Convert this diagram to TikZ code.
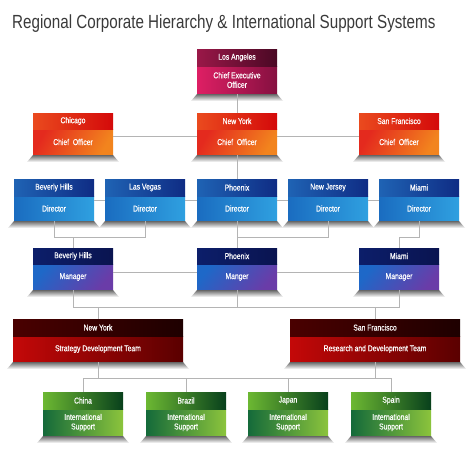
\documentclass[tikz,border=0pt]{standalone}
\usepackage{fontspec}
\setmainfont{Liberation Sans}
\newfontfamily\condf[FakeStretch=0.8]{Liberation Sans}
\newfontfamily\boxf[FakeStretch=0.8,FakeBold=0.4]{Liberation Sans}
\definecolor{ceoHL}{HTML}{9A1848}\definecolor{ceoHR}{HTML}{4A0824}
\definecolor{ceoBL}{HTML}{DE1F64}\definecolor{ceoBR}{HTML}{851040}
\definecolor{chHL}{HTML}{EA4A1E}\definecolor{chHR}{HTML}{D40A0A}
\definecolor{chBL}{HTML}{E42A1E}\definecolor{chBR}{HTML}{F2841E}
\definecolor{dirHL}{HTML}{1F63B4}\definecolor{dirHR}{HTML}{0F2C84}
\definecolor{dirBL}{HTML}{1A6CC0}\definecolor{dirBR}{HTML}{2FA0E0}
\definecolor{mgHL}{HTML}{0C1E6A}\definecolor{mgHR}{HTML}{0A1450}
\definecolor{mgBL}{HTML}{1E68C8}\definecolor{mgBR}{HTML}{6A3CA8}
\definecolor{tmHL}{HTML}{4A0000}\definecolor{tmHR}{HTML}{1E0000}
\definecolor{tmBL}{HTML}{C40808}\definecolor{tmBR}{HTML}{5A0000}
\definecolor{inHL}{HTML}{6CB832}\definecolor{inHR}{HTML}{08401C}
\definecolor{inBL}{HTML}{146A3A}\definecolor{inBR}{HTML}{8CC43C}
\definecolor{linegray}{HTML}{B4B4B4}
\definecolor{titlegray}{HTML}{3A3A3A}
\tikzset{
  box/.style={inner sep=0pt, outer sep=0pt, text=white, align=center,
    font=\boxf\fontsize{8.5}{9.5}\selectfont},
  ceoH/.style={left color=ceoHL, right color=ceoHR},
  ceoB/.style={left color=ceoBL, right color=ceoBR},
  chH/.style={left color=chHL, right color=chHR},
  chB/.style={left color=chBL, right color=chBR, shading angle=60},
  dirH/.style={left color=dirHL, right color=dirHR},
  dirB/.style={left color=dirBL, right color=dirBR},
  mgH/.style={left color=mgHL, right color=mgHR},
  mgB/.style={left color=mgBL, right color=mgBR, shading angle=50},
  tmH/.style={left color=tmHL, right color=tmHR},
  tmB/.style={left color=tmBL, right color=tmBR},
  inH/.style={left color=inHL, right color=inHR},
  inB/.style={left color=inBL, right color=inBR},
  link/.style={draw=linegray, line width=0.8pt},
  shelf/.style={top color=black!60, bottom color=white, draw=none}
}
% name, cx, top, width, header h, body h, style prefix, header, body
\newcommand\obox[9]{%
  \node[box,#7B,minimum width=#4pt,minimum height=#6pt,anchor=north] (#1) at (#2,{-#3-#5}) {#9};
  \node[box,#7H,minimum width=#4pt,minimum height=#5pt,anchor=south] (#1-h) at (#1.north) {#8};
  \path[shelf] (#1.south west) -- (#1.south east) -- ([xshift=6pt,yshift=-7pt]#1.south east)
     -- ([xshift=-6pt,yshift=-7pt]#1.south west) -- cycle;
}
\begin{document}
\begin{tikzpicture}[x=1pt,y=1pt]
\useasboundingbox[fill=white] (0,0) rectangle (474,-474);
\node[anchor=base west, inner sep=0pt, text=titlegray, font=\condf\fontsize{19}{21}\selectfont] (title) at (12,-28)
  {Regional Corporate Hierarchy \& International Support Systems};

\obox{ceo}{237}{49}{80}{17}{28}{ceo}{Los Angeles}{Chief Executive\\Officer}

\obox{chi}{73}{113}{80}{16}{26}{ch}{Chicago}{Chief\ \ Officer}
\obox{ny}{237}{113}{80}{16}{26}{ch}{New York}{Chief\ \ Officer}
\obox{sf}{399}{113}{80}{16}{26}{ch}{San Francisco}{Chief\ \ Officer}

\obox{bhd}{54}{179}{80}{17}{25}{dir}{Beverly Hills}{Director}
\obox{lvd}{145}{179}{80}{17}{25}{dir}{Las Vegas}{Director}
\obox{phd}{237}{179}{80}{17}{25}{dir}{Phoenix}{Director}
\obox{njd}{328}{179}{80}{17}{25}{dir}{New Jersey}{Director}
\obox{mid}{419}{179}{80}{17}{25}{dir}{Miami}{Director}

\obox{bhm}{73}{248}{80}{16}{26}{mg}{Beverly Hills}{Manager}
\obox{phm}{237}{248}{80}{16}{26}{mg}{Phoenix}{Manger}
\obox{mim}{399}{248}{80}{16}{26}{mg}{Miami}{Manager}

\obox{tny}{98}{319}{170}{17}{26}{tm}{New York}{Strategy Development Team}
\obox{tsf}{375}{319}{170}{17}{26}{tm}{San Francisco}{Research and Development Team}

\obox{cn}{83}{392}{80}{17}{27}{in}{China}{International\\Support}
\obox{br}{186}{392}{80}{17}{27}{in}{Brazil}{International\\Support}
\obox{jp}{288}{392}{80}{17}{27}{in}{Japan}{International\\Support}
\obox{es}{391}{392}{80}{17}{27}{in}{Spain}{International\\Support}

% connectors
\draw[link] (ceo.south) -- (ny-h.north);
\draw[link] (chi.east |- 0,-136) -- (ny.west |- 0,-136);
\draw[link] (ny.east |- 0,-136) -- (sf.west |- 0,-136);
\draw[link] (ny.south) -- (phd-h.north);
\draw[link] (bhd.east |- 0,-200) -- (lvd.west |- 0,-200);
\draw[link] (lvd.east |- 0,-200) -- (phd.west |- 0,-200);
\draw[link] (phd.east |- 0,-200) -- (njd.west |- 0,-200);
\draw[link] (njd.east |- 0,-200) -- (mid.west |- 0,-200);

\draw[link] (bhd.south) -- (bhd.south |- 0,-237) -- (lvd.south |- 0,-237) -- (lvd.south);
\draw[link] (bhm-h.north |- 0,-237) -- (bhm-h.north);
\draw[link] (phd.south) -- (phm-h.north);
\draw[link] (phd.south |- 0,-237) -- (njd.south |- 0,-237) -- (njd.south);
\draw[link] (mid.south) -- (mid.south |- 0,-237) -- (mim-h.north |- 0,-237) -- (mim-h.north);

\draw[link] (bhm.east |- 0,-272) -- (phm.west |- 0,-272);
\draw[link] (phm.east |- 0,-272) -- (mim.west |- 0,-272);

\draw[link] (bhm.south) -- (bhm.south |- 0,-307) -- (mim.south |- 0,-307) -- (mim.south);
\draw[link] (phm.south) -- (phm.south |- 0,-307);
\draw[link] (tny-h.north |- 0,-307) -- (tny-h.north);
\draw[link] (tsf-h.north |- 0,-307) -- (tsf-h.north);

\draw[link] (tny.south) -- (tny.south |- 0,-378);
\draw[link] (tsf.south) -- (tsf.south |- 0,-378);
\draw[link] (cn-h.north) -- (cn-h.north |- 0,-378) -- (es-h.north |- 0,-378) -- (es-h.north);
\draw[link] (br-h.north |- 0,-378) -- (br-h.north);
\draw[link] (jp-h.north |- 0,-378) -- (jp-h.north);
\end{tikzpicture}
\end{document}
